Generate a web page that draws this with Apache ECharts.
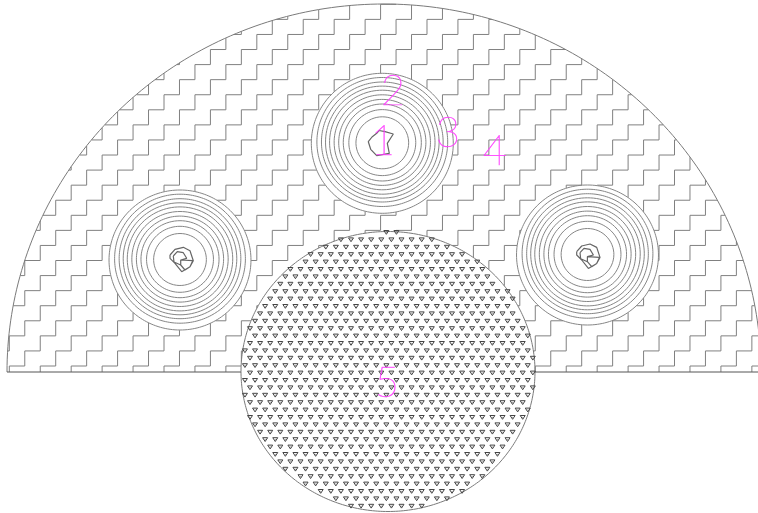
<!DOCTYPE html>
<html><head><meta charset="utf-8">
<style>html,body{margin:0;padding:0;background:#fff}#c{width:758px;height:513px}</style>
<script src="https://cdn.jsdelivr.net/npm/echarts@6/dist/echarts.min.js"></script>
</head><body><div id="c"></div>
<script>
// Cross-section, in picture units
const outerArc = {cx: 384, cy: 372, rx: 377, ry: 368};
const baseY = 372;
const lowerCore = {cx: 388, cy: 371.5, rx: 147, ry: 140};
const coreCentres = [[382.3, 143.3], [180, 260], [587.5, 255]];
const ringRadii = [70, 64.5, 60, 56, 52, 47.5, 43, 38.5, 33, 26];
const ringLift = [0, 1.3, 1.3, 1.2, 1.1, 1, 0.9, 0.8, 0.7, 0.5];
const ringAspect = 1.014;
const stairOrigin = [9.3, 366];
const stairStep = [15.47, 15.07];
const triOrigin = [351, 343.3];
const triStep = [10.1, 7.4];
const blobTop = [[376.7,133.3],[379,130.5],[385,131.7],[393.3,134],[387.3,143.3],[389.3,153.3],[376.7,155.7],[370.7,149.3],[368.3,141.7],[372,137],[376.7,133.3]];
const blobOuter = [[170,255],[175,249.3],[183.3,247.3],[190,250.7],[193.3,260.7],[190,266.7],[181.7,271.7],[175,263.3],[170,258.3],[170,255]];
const blobInner = [[173.3,256],[177.3,251.7],[183.3,252.7],[186.7,258.3],[180.7,260],[180.7,265],[174,262],[173.3,256]];
const blobShield = [[180.7,260],[192.7,260.7],[190,266.7],[185,270],[180.7,265],[180.7,260]];
const blobOffsetRight = [406.7, -3.3];
const labels = ['1', '2', '3', '4', '5'];
const labelX = [383, 393, 448, 495, 387];
const labelY = [141, 91, 133, 151, 383];

const GAP = ['-', '-'];
function ellipsePts(e, from, to) {
  const p = [];
  for (let a = from; a <= to + 1e-6; a += 1) {
    const t = a * Math.PI / 180;
    p.push([e.cx + e.rx * Math.cos(t), e.cy + e.ry * Math.sin(t)]);
  }
  return p;
}
function inEllipse(x, y, e) {
  const u = (x - e.cx) / e.rx, v = (y - e.cy) / e.ry;
  return u * u + v * v < 1;
}
const coreOuter = coreCentres.map(c => ({cx: c[0], cy: c[1], rx: ringRadii[0] * ringAspect, ry: ringRadii[0]}));
function hatchVisible(x, y) {
  if (y > baseY || !inEllipse(x, y, outerArc)) return false;
  if (inEllipse(x, y, lowerCore)) return false;
  return !coreOuter.some(e => inEllipse(x, y, e));
}
function clipSegment(x1, y1, x2, y2, out) {
  const len = Math.hypot(x2 - x1, y2 - y1), n = Math.ceil(len / 0.25);
  let open = false;
  for (let i = 0; i <= n; i++) {
    const x = x1 + (x2 - x1) * i / n, y = y1 + (y2 - y1) * i / n;
    if (hatchVisible(x, y)) {
      if (!open || i === n) out.push([x, y]);
      open = true;
    } else {
      if (open) { out.push([x1 + (x2 - x1) * (i - 1) / n, y1 + (y2 - y1) * (i - 1) / n]); out.push(GAP); }
      open = false;
    }
  }
  if (open) out.push(GAP);
}
const hatch = [];
for (let j = -1; j < 25; j++) {
  for (let k = -1; k < 50; k++) {
    if ((k + j + 2) % 2) continue;
    const xa = stairOrigin[0] + k * stairStep[0], xb = xa + stairStep[0];
    const y = stairOrigin[1] - j * stairStep[1];
    clipSegment(xa, y, xb, y, hatch);
    clipSegment(xb, y, xb, y - stairStep[1], hatch);
  }
}
const frame = [...ellipsePts(outerArc, 180, 360), GAP, ...ellipsePts(lowerCore, 0, 360)];
const baseLine = [[outerArc.cx - outerArc.rx, baseY], [lowerCore.cx - lowerCore.rx, baseY], GAP,
  [lowerCore.cx + lowerCore.rx, baseY], [758, baseY]];
const rings = [];
coreCentres.forEach(c => ringRadii.forEach((r, i) => {
  rings.push(...ellipsePts({cx: c[0], cy: c[1] - ringLift[i], rx: r * ringAspect, ry: r}, 0, 360), GAP);
}));
const shift = (p, d) => p.map(q => [q[0] + d[0], q[1] + d[1]]);
const blobs = [...blobTop, GAP];
[[0, 0], blobOffsetRight].forEach(d => {
  blobs.push(...shift(blobOuter, d), GAP, ...shift(blobInner, d), GAP, ...shift(blobShield, d), GAP);
});
const tris = [], triDots = [];
const triBound = {cx: lowerCore.cx, cy: lowerCore.cy, rx: lowerCore.rx - 0.5, ry: lowerCore.ry - 0.5};
for (let r = -25; r < 30; r++) {
  for (let q = -25; q < 25; q++) {
    const x = triOrigin[0] + (q + (r % 2 ? 0.5 : 0)) * triStep[0];
    const y = triOrigin[1] + r * triStep[1];
    if (!inEllipse(x, y, triBound)) continue;
    tris.push([x - 2.5, y - 1.8], [x + 2.5, y - 1.8], [x, y + 2], [x - 2.5, y - 1.8], GAP);
    triDots.push([x - 0.6, y + 0.1], [x + 0.6, y + 0.1], GAP);
  }
}
const lineSeries = (data, color, width) => ({
  type: 'line', data, showSymbol: false, symbol: 'none', silent: true, animation: false,
  connectNulls: false, clip: true, lineStyle: {color, width}, z: 2
});
const chart = echarts.init(document.getElementById('c'), null, {renderer: 'canvas'});
chart.setOption({
  animation: false,
  backgroundColor: '#ffffff',
  grid: {left: 0, right: 0, top: 0, bottom: 0},
  xAxis: {type: 'value', min: 0, max: 758, show: false},
  yAxis: {type: 'value', min: 0, max: 513, inverse: true, show: false},
  series: [
    lineSeries(hatch, '#808080', 1),
    lineSeries(frame, '#7a7a7a', 1),
    lineSeries(baseLine, '#555555', 1),
    lineSeries(rings, '#868686', 1),
    lineSeries(blobs, '#666666', 1.2),
    lineSeries(tris, '#444444', 1),
    lineSeries(triDots, '#888888', 0.8),
    {
      type: 'scatter', symbolSize: 0, silent: true, animation: false, z: 5,
      data: labels.map((t, i) => ({name: t, value: [labelX[i], labelY[i]]})),
      label: {
        show: true, position: 'inside', formatter: '{b}', color: '#ff40ff',
        fontFamily: 'Lato', fontWeight: 100, fontSize: 42,
        textBorderColor: '#ff40ff', textBorderWidth: 0.6
      }
    }
  ]
});
</script></body></html>
